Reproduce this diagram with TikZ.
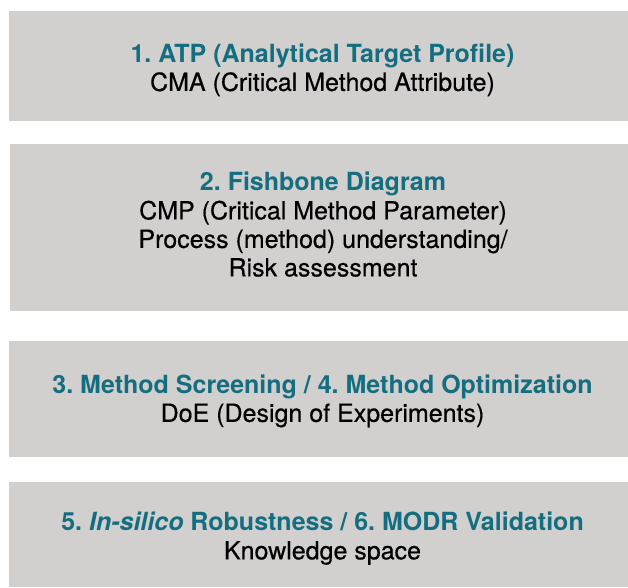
\documentclass[tikz,border=0pt]{standalone}
\usepackage{fontspec}
\setmainfont{TeX Gyre Heros}
\newfontface\medfont{TeX Gyre Heros}[FakeBold=0.5]
\usetikzlibrary{positioning}

\definecolor{boxgray}{RGB}{209,208,207}
\definecolor{stepteal}{RGB}{20,110,128}

\tikzset{
	stagebox/.style={fill=boxgray,inner sep=0pt,minimum width=627},
	stagetext/.style={inner sep=0pt,align=center,
		font=\fontsize{25}{28.5}\selectfont\medfont}
}
\newcommand{\stagehead}[1]{\textcolor{stepteal}{\normalfont\fontsize{25}{28.5}\selectfont\bfseries #1}}

\begin{document}
\frenchspacing
\begin{tikzpicture}[x=1pt,y=-1pt]
	\useasboundingbox (0,0) rectangle (628,587);

	% stage boxes
	\node[stagebox,minimum height=110] (atp) at (322.5,66) {};
	\node[stagebox,minimum height=167] (fishbone) at (323,227.5) {};
	\node[stagebox,minimum height=116] (screening) at (322.5,399) {};
	\node[stagebox,minimum height=105] (robustness) at (322.5,534.5) {};

	% stage texts
	\node[stagetext,yshift=-4pt] (atptext) at (atp)
		{\stagehead{1. ATP (Analytical Target Profile)}\\
		CMA (Critical Method Attribute)};
	\node[stagetext,yshift=3pt] (fishbonetext) at (fishbone)
		{\stagehead{2. Fishbone Diagram}\\
		CMP (Critical Method Parameter)\\
		Process (method) understanding/\\
		Risk assessment};
	\node[stagetext,yshift=-2pt] (screeningtext) at (screening)
		{\stagehead{3. Method Screening / 4. Method Optimization}\\
		DoE (Design of Experiments)};
	\node[stagetext,yshift=-4pt] (robustnesstext) at (robustness)
		{\stagehead{5. \textit{In-silico} Robustness / 6. MODR Validation}\\
		Knowledge space};

\end{tikzpicture}
\end{document}
